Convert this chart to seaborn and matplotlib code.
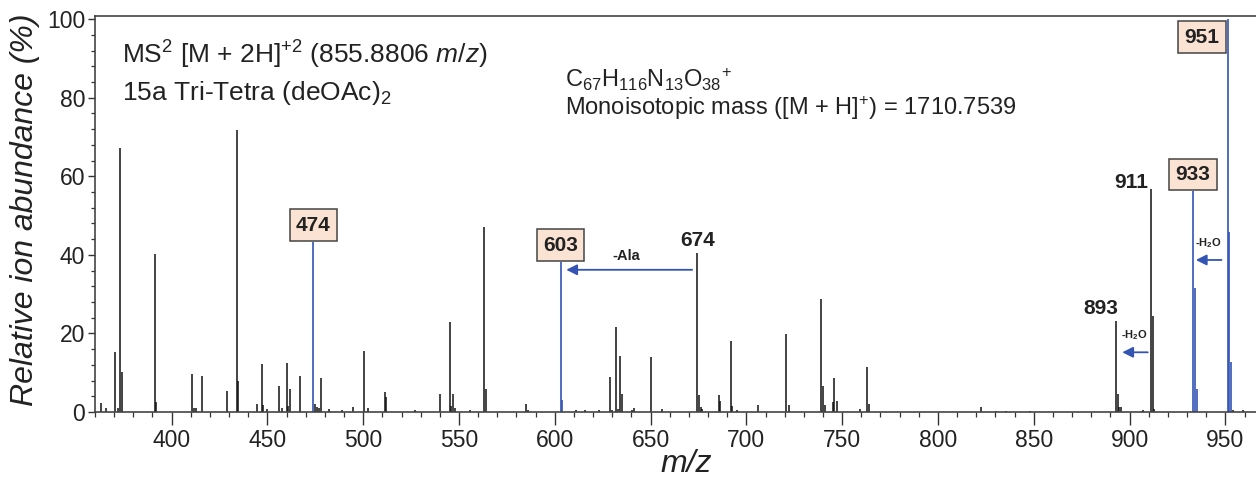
import pandas as pd
import matplotlib.pyplot as plt
import seaborn as sns
from matplotlib.ticker import MultipleLocator

# Peak lists: m/z and relative abundance (%)
mz_black = [362.9, 365.9, 370.7, 371.8, 373.0, 373.9, 391.1, 392.0, 410.8, 411.7,
            412.9, 416.0, 429.1, 434.0, 434.8, 444.8, 447.0, 447.5, 450.0, 456.1,
            457.8, 460.1, 461.0, 462.0, 466.9, 474.9, 475.8, 476.8, 478.0, 481.9,
            489.0, 494.9, 500.2, 502.6, 511.6, 512.1, 527.1, 540.0, 545.1, 545.9,
            547.0, 548.0, 555.7, 563.0, 563.9, 584.9, 586.1, 611.1, 616.0, 623.0,
            629.0, 630.0, 632.0, 632.8, 633.9, 634.9, 640.2, 641.5, 650.1, 655.8,
            674.3, 675.2, 676.2, 676.9, 685.6, 686.1, 691.9, 692.7, 695.0, 706.0,
            720.9, 722.0, 738.7, 739.8, 741.0, 745.2, 746.0, 747.1, 759.5, 763.1,
            764.0, 822.3, 830.3, 835.4, 848.3, 893.0, 893.9, 894.6, 895.3, 906.3,
            907.2, 911.1, 912.0, 912.9, 954.2, 959.4]
ab_black = [2.4, 1.0, 15.2, 1.0, 67.1, 10.1, 40.1, 2.6, 9.7, 1.0,
            1.0, 9.2, 5.4, 71.8, 7.9, 2.0, 12.2, 1.8, 0.8, 6.6,
            1.0, 12.4, 1.5, 5.9, 9.2, 2.1, 1.4, 1.0, 8.7, 0.8,
            0.6, 1.2, 15.6, 1.0, 5.2, 3.9, 0.6, 4.7, 23.0, 1.5,
            4.7, 1.0, 0.5, 47.0, 5.8, 2.0, 0.5, 0.5, 0.5, 0.4,
            9.0, 0.6, 21.6, 0.8, 14.2, 4.6, 0.6, 1.0, 14.0, 0.8,
            40.6, 4.3, 1.2, 0.8, 4.3, 2.8, 18.1, 1.5, 0.6, 1.9,
            19.8, 1.8, 28.8, 6.6, 1.8, 2.5, 8.6, 2.8, 0.7, 11.4,
            2.0, 1.2, 0.3, 0.3, 0.3, 23.2, 4.6, 1.2, 1.2, 0.3,
            0.5, 56.7, 24.4, 0.8, 0.5, 0.5]

mz_blue = [474.0, 603.1, 603.9, 933.1, 934.0, 935.2, 951.4, 952.1, 953.0]
ab_blue = [43.4, 38.3, 3.0, 56.3, 31.5, 5.9, 100.0, 45.7, 12.8]

boxed_mz = [474.0, 603.1, 933.1]
boxed_ab = [43.4, 38.3, 56.3]
boxed_text = ["474", "603", "933"]

black = pd.DataFrame({"mz": mz_black, "ab": ab_black})
blue = pd.DataFrame({"mz": mz_blue, "ab": ab_blue})

sns.set_style("ticks")
plt.rcParams["font.family"] = ["Liberation Sans", "DejaVu Sans"]
plt.rcParams["mathtext.fontset"] = "custom"
plt.rcParams["mathtext.rm"] = "Liberation Sans"
plt.rcParams["mathtext.it"] = "Liberation Sans:italic"
plt.rcParams["mathtext.bf"] = "Liberation Sans:bold"
plt.rcParams["mathtext.default"] = "regular"

BLUE = "#3454b4"
BOXFACE = "#fbe3d4"

fig = plt.figure(figsize=(12.56, 4.82), dpi=100)
ax = fig.add_axes([0.0756, 0.1452, 0.9244, 0.8216])

ax.vlines(black["mz"], 0, black["ab"], color="#111111", lw=1.1)
ax.vlines(blue["mz"], 0, blue["ab"], color=BLUE, lw=1.2)

ax.set_xlim(360, 966)
ax.set_ylim(0, 100.8)
ax.xaxis.set_major_locator(MultipleLocator(50))
ax.xaxis.set_minor_locator(MultipleLocator(10))
ax.yaxis.set_major_locator(MultipleLocator(20))
ax.yaxis.set_minor_locator(MultipleLocator(4))
ax.tick_params(axis="x", which="major", length=9, width=1.0, labelsize=16.5, pad=3, colors="#333333", labelcolor="#222222")
ax.tick_params(axis="x", which="minor", length=3.6, width=0.9, colors="#333333")
ax.tick_params(axis="y", which="major", length=5, width=1.0, labelsize=16.5, pad=2, colors="#333333", labelcolor="#222222")
ax.tick_params(axis="y", which="minor", length=3, width=0.9, colors="#333333")

ax.spines["right"].set_visible(False)
for s in ["left", "top", "bottom"]:
    ax.spines[s].set_color("#444444")
    ax.spines[s].set_linewidth(1.2)

ax.set_xlabel("m/z", fontsize=23, style="italic", color="#222222")
ax.xaxis.set_label_coords(0.509, -0.093)
ax.set_ylabel("Relative ion abundance (%)", fontsize=23, style="italic", color="#222222")
ax.yaxis.set_label_coords(-0.047, 0.51)

# header texts
ax.text(0.0233, 0.881, r"MS$^2$ [M + 2H]$^{+2}$ (855.8806 $\mathit{m/z}$)",
        transform=ax.transAxes, fontsize=19, color="#222222", va="baseline")
ax.text(0.0233, 0.788, r"15a Tri-Tetra (deOAc)$_2$",
        transform=ax.transAxes, fontsize=19, color="#222222", va="baseline")
ax.text(0.4048, 0.821, r"C$_{67}$H$_{116}$N$_{13}$O$_{38}$$^{+}$",
        transform=ax.transAxes, fontsize=17, color="#222222", va="baseline")
ax.text(0.4048, 0.750, r"Monoisotopic mass ([M + H]$^{+}$) = 1710.7539",
        transform=ax.transAxes, fontsize=17, color="#222222", va="baseline")

# boxed labels
box = dict(boxstyle="square,pad=0.3", fc=BOXFACE, ec="#444444", lw=1.1)
for x, y, t in zip(boxed_mz, boxed_ab, boxed_text):
    ax.text(x, y + 4.2, t, ha="center", va="center", fontsize=15,
            fontweight="bold", color="#222222", bbox=box)
ax.text(mz_blue[6] - 4.4, 95.4, "951", ha="right", va="center", fontsize=15,
        fontweight="bold", color="#222222", bbox=box)

# plain labels
ax.text(674.3, 43.6, "674", ha="center", va="center", fontsize=15, fontweight="bold", color="#222222")
ax.text(900.8, 58.5, "911", ha="center", va="center", fontsize=15, fontweight="bold", color="#222222")
ax.text(885.1, 26.4, "893", ha="center", va="center", fontsize=15, fontweight="bold", color="#222222")

# neutral losses
arrow = dict(arrowstyle="-|>", color=BLUE, lw=1.3, mutation_scale=16, shrinkA=0, shrinkB=0)
ax.annotate("", xy=(606.0, 36.2), xytext=(671.7, 36.2), arrowprops=arrow)
ax.text(637.2, 39.7, "-Ala", ha="center", va="center", fontsize=10.5, fontweight="bold", color="#222222")
ax.annotate("", xy=(896.2, 15.2), xytext=(909.5, 15.2), arrowprops=arrow)
ax.text(902.6, 19.6, r"-H$_\mathbf{2}$O", ha="center", va="center", fontsize=8, fontweight="bold", color="#222222")
ax.annotate("", xy=(934.6, 38.7), xytext=(948.0, 38.7), arrowprops=arrow)
ax.text(941.3, 42.9, r"-H$_\mathbf{2}$O", ha="center", va="center", fontsize=8, fontweight="bold", color="#222222")

fig.savefig("out.png", dpi=100)
